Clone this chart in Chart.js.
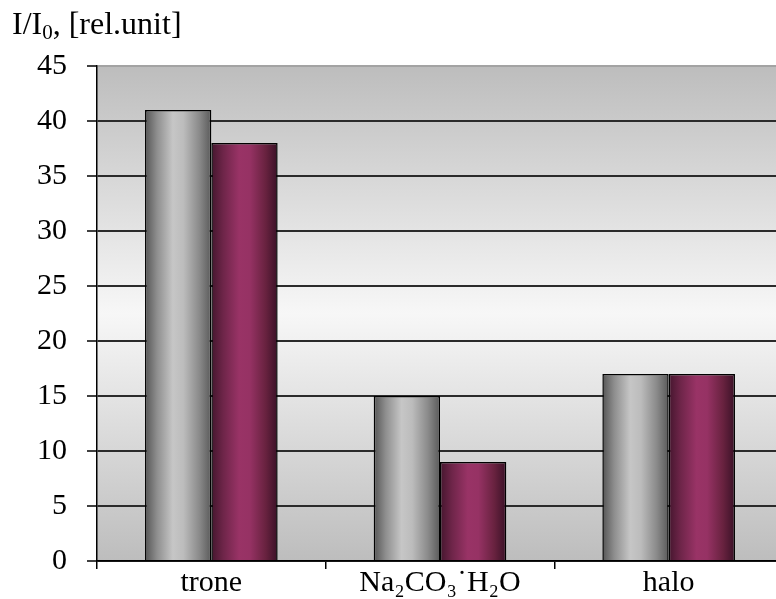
<!DOCTYPE html>
<html>
<head>
<meta charset="utf-8">
<script src="https://cdn.jsdelivr.net/npm/chart.js@4/dist/chart.umd.min.js"></script>
<style>
    html, body {
        margin: 0;
        padding: 0;
        overflow: hidden;
        background: #fff;
    }
    #wrap {
        width: 800px;
        height: 599px;
    }
</style>
</head>
<body>
<div id="wrap"><canvas id="intensity-chart"></canvas></div>
<script>
const categories = ['trone', 'Na₂CO₃˙H₂O', 'halo'];
const grayValues = [41, 15, 17];
const maroonValues = [38, 9, 17];
const yTickValues = [0, 5, 10, 15, 20, 25, 30, 35, 40, 45];
const axisTitle = ['I/I', '0', ', [rel.unit]'];

const serif = "'Liberation Serif', 'Times New Roman', serif";

// gradient plot area + title with a real subscript
const decorPlugin = {
    id: 'decor',
    beforeDraw(chart) {
        const { ctx, chartArea: a } = chart;
        ctx.save();
        ctx.fillStyle = '#fff';
        ctx.fillRect(0, 0, chart.width, chart.height);
        const g = ctx.createLinearGradient(0, a.top, 0, a.bottom);
        g.addColorStop(0, '#bdbdbd');
        g.addColorStop(0.5, '#f7f7f7');
        g.addColorStop(1, '#bdbdbd');
        ctx.fillStyle = g;
        ctx.fillRect(a.left, a.top, a.right - a.left, a.bottom - a.top);
        ctx.restore();
    },
    beforeDatasetsDraw(chart) {
        const ctx = chart.ctx;
        const palettes = [
            ['#555555', '#8e8e8e', '#c6c6c6', '#bcbcbc', '#8a8a8a', '#5a5a5a'],
            ['#45162e', '#6e2549', '#993366', '#963264', '#68223f', '#3a1127'],
        ];
        chart.data.datasets.forEach((ds, i) => {
            const stops = palettes[i];
            chart.getDatasetMeta(i).data.forEach((bar) => {
                const x0 = bar.x - bar.width / 2;
                const x1 = bar.x + bar.width / 2;
                const g = ctx.createLinearGradient(x0, 0, x1, 0);
                const pos = [0, 0.18, 0.42, 0.58, 0.82, 1];
                stops.forEach((c, k) => g.addColorStop(pos[k], c));
                bar.options = Object.assign({}, bar.options, { backgroundColor: g });
            });
        });
    },
    afterDraw(chart) {
        const ctx = chart.ctx;
        ctx.save();
        ctx.fillStyle = '#000';
        ctx.textBaseline = 'alphabetic';
        let x = 12;
        const y = 34;
        ctx.font = '32px ' + serif;
        ctx.fillText(axisTitle[0], x, y);
        x += ctx.measureText(axisTitle[0]).width;
        ctx.font = '21px ' + serif;
        ctx.fillText(axisTitle[1], x, y + 5);
        x += ctx.measureText(axisTitle[1]).width;
        ctx.font = '32px ' + serif;
        ctx.fillText(axisTitle[2], x, y);
        ctx.restore();
    },
};

function createIntensityChart(canvas) {
    return new Chart(canvas, {
        type: 'bar',
        data: {
            labels: categories,
            datasets: [
                {
                    data: grayValues,
                    backgroundColor: () => '#aaaaaa',
                    borderColor: '#000',
                    borderWidth: 1.5,
                },
                {
                    data: maroonValues,
                    backgroundColor: () => '#993366',
                    borderColor: '#000',
                    borderWidth: 1.5,
                },
            ],
        },
        plugins: [decorPlugin],
        options: {
            responsive: true,
            maintainAspectRatio: false,
            animation: false,
            categoryPercentage: 0.58,
            barPercentage: 1,
            layout: {
                padding: { top: 66, right: 17, bottom: 0, left: 0 },
            },
            plugins: {
                legend: { display: false },
                tooltip: { enabled: false },
            },
            scales: {
                x: {
                    afterFit(scale) {
                        scale.height = 37;
                    },
                    grid: {
                        drawOnChartArea: false,
                        drawTicks: true,
                        tickLength: 8,
                        color: '#000',
                        lineWidth: 1.5,
                    },
                    border: { color: '#000', width: 1.5 },
                    ticks: {
                        color: '#000',
                        padding: -4,
                        maxRotation: 0,
                        font: { family: serif, size: 30 },
                    },
                },
                y: {
                    min: 0,
                    max: 45,
                    afterFit(scale) {
                        scale.width = 97;
                    },
                    afterBuildTicks(scale) {
                        scale.ticks = yTickValues.map((v) => ({ value: v }));
                    },
                    grid: {
                        drawTicks: true,
                        tickLength: 10,
                        tickColor: '#000',
                        tickWidth: 1.5,
                        lineWidth: 2,
                        color(ctx) {
                            return ctx.tick && ctx.tick.value === 45 ? '#a3a3a3' : '#2b2b2b';
                        },
                    },
                    border: { color: '#000', width: 1.5 },
                    ticks: {
                        color: '#000',
                        padding: 20,
                        font: { family: serif, size: 30 },
                    },
                },
            },
        },
    });
}

createIntensityChart(document.getElementById('intensity-chart'));
</script>
</body>
</html>
